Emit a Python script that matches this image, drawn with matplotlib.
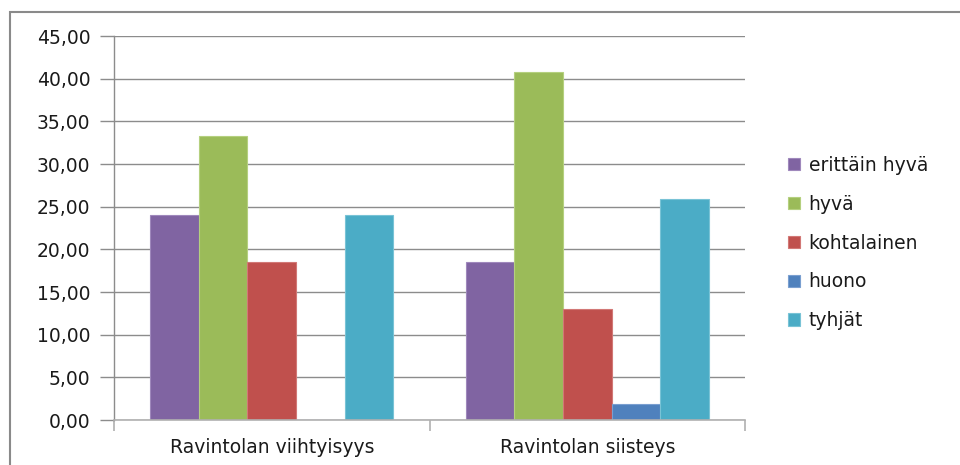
import matplotlib
matplotlib.use("Agg")
import matplotlib.pyplot as plt
from matplotlib.patches import Rectangle, Patch
import numpy as np

categories = ["Ravintolan viihtyisyys", "Ravintolan siisteys"]
series_names = ["erittäin hyvä", "hyvä", "kohtalainen", "huono", "tyhjät"]
erittain_hyva = [24.07, 18.52]
hyva = [33.33, 40.74]
kohtalainen = [18.52, 12.96]
huono = [0.00, 1.85]
tyhjat = [24.07, 25.93]
y_ticks = [0, 5, 10, 15, 20, 25, 30, 35, 40, 45]

series_values = [erittain_hyva, hyva, kohtalainen, huono, tyhjat]
colors = ["#8064A2", "#9BBB59", "#C0504D", "#4F81BD", "#4BACC6"]
edges = ["#9F88BC", "#B5D07F", "#D27876", "#7A9FD0", "#79C3D6"]

plt.rcParams["font.family"] = ["DejaVu Sans"]
fs = 13.5

fig = plt.figure(figsize=(9.6, 4.65), dpi=100)
ax = fig.add_axes([114 / 960, 1 - 420 / 465, (745 - 114) / 960, (420 - 36) / 465])

n = len(series_names)
width = 1 / 6.5
x = np.arange(len(categories))
for i, (vals, c, e) in enumerate(zip(series_values, colors, edges)):
    offs = (i - (n - 1) / 2) * width
    ax.bar(x + offs, vals, width=width, color=c, edgecolor=e, linewidth=0.8,
           label=series_names[i], zorder=3)

ax.set_xlim(-0.5, len(categories) - 0.5)
ax.set_ylim(0, 45)
ax.set_yticks(y_ticks)
ax.set_yticklabels([f"{v:.2f}".replace(".", ",") for v in y_ticks], fontsize=fs, color="#1A1A1A")
ax.yaxis.grid(True, color="#8C8C8C", linewidth=1.0, zorder=0)
ax.set_axisbelow(True)

ax.set_xticks(x)
ax.set_xticklabels(categories, fontsize=fs, color="#1A1A1A")
ax.tick_params(axis="x", length=0, pad=13)
ax.set_xticks([-0.5, 0.5, 1.5], minor=True)
ax.tick_params(axis="x", which="minor", length=8, color="#B0B0B0", width=1.2)
ax.tick_params(axis="y", length=10, color="#8C8C8C", width=1, pad=7)

for s in ["top", "right"]:
    ax.spines[s].set_visible(False)
ax.spines["left"].set_color("#8C8C8C")
ax.spines["left"].set_linewidth(1.0)
ax.spines["bottom"].set_color("#B0B0B0")
ax.spines["bottom"].set_linewidth(1.2)
ax.spines["bottom"].set_zorder(4)

handles = [Patch(facecolor=c, edgecolor=e, linewidth=0.8) for c, e in zip(colors, edges)]
fig.legend(handles, series_names, loc="center left", bbox_to_anchor=(788 / 960, 1 - 243 / 465),
           frameon=False, fontsize=fs, handlelength=0.65, handleheight=0.65,
           handletextpad=0.45, labelspacing=1.06, borderpad=0, borderaxespad=0,
           labelcolor="#1A1A1A")

# outer chart border
fig.patches.append(Rectangle((10 / 960, -0.05), 1.0, 1 - 12 / 465 + 0.05,
                             transform=fig.transFigure, fill=False,
                             edgecolor="#8A8A8A", linewidth=1.5, zorder=10))

fig.savefig("out.png", dpi=100)
